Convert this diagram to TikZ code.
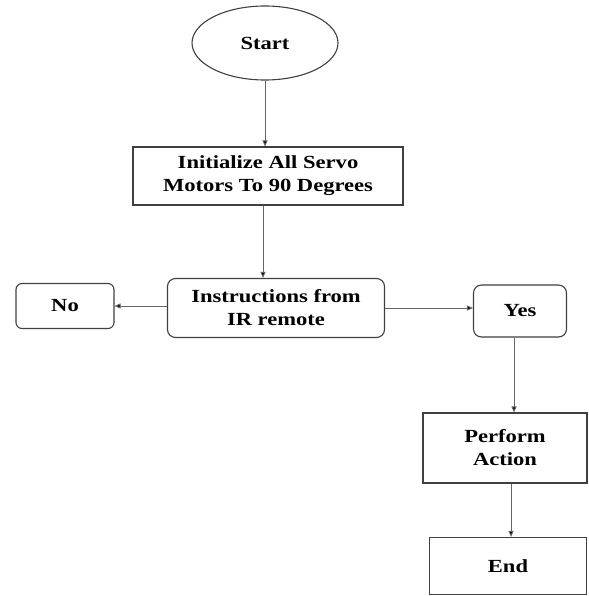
\documentclass[tikz,border=0pt]{standalone}
\usepackage{fontspec}
\setmainfont{Liberation Serif}[FakeStretch=1.22]
\usetikzlibrary{shapes.geometric,arrows.meta}
\begin{document}
\begin{tikzpicture}[x=1pt,y=-1pt,
  box/.style={draw=black!75,line width=1.1pt,fill=white,align=center,inner sep=0pt,
    font=\fontsize{18.5}{23}\selectfont\bfseries},
  rbox/.style={box,rounded corners=8pt},
  arr/.style={draw=black!60,line width=0.9pt,-{Triangle[length=6pt,width=5pt,fill=black]}}]
\useasboundingbox (0,0) rectangle (588,596);
\node[box,ellipse,minimum width=146pt,minimum height=74pt] (start) at (265,43) {Start};
\node[box,minimum width=270pt,minimum height=58pt] (init) at (268,176) {Initialize All Servo\\Motors To 90 Degrees};
\node[rbox,minimum width=217pt,minimum height=59pt] (instr) at (276,308) {Instructions from\\IR remote};
\node[rbox,rounded corners=6pt,minimum width=98pt,minimum height=45pt] (no) at (65,306) {No};
\node[rbox,minimum width=93pt,minimum height=52pt] (yes) at (520,311) {Yes};
\node[box,minimum width=164pt,minimum height=70pt] (perf) at (505,448) {Perform\\Action};
\node[box,minimum width=157pt,minimum height=57pt] (end) at (508,566) {End};
\draw[arr] (start.south) -- (start.south |- init.north);
\draw[arr] ([xshift=-5pt]init.south) -- ([xshift=-5pt]init.south |- instr.north);
\draw[arr] (instr.west |- no.east) -- (no.east);
\draw[arr] (instr.east) -- (yes.west |- instr.east);
\draw[arr] ([xshift=-6pt]yes.south) -- ([xshift=-6pt]yes.south |- perf.north);
\draw[arr] ([xshift=6pt]perf.south) -- ([xshift=6pt]perf.south |- end.north);
\end{tikzpicture}
\end{document}
